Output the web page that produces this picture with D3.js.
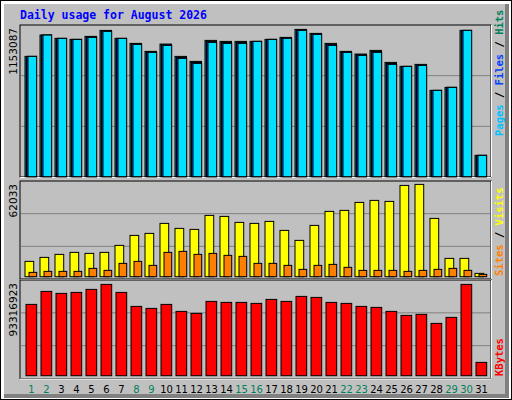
<!DOCTYPE html><html><head><script src="https://cdn.jsdelivr.net/npm/d3@7"></script>
<style>body{margin:0;background:#fff}</style></head><body><svg id="c" width="512" height="400"></svg>
<script>
const days = d3.range(1,32);
const weekend = [1,2,8,9,15,16,22,23,29,30];
const hits = [941800,1108700,1082700,1074800,1098300,1145300,1082700,1043500,980900,1038300,941800,902600,1067000,1059200,1059200,1059200,1074800,1090500,1153087,1121800,1043500,980900,960000,988700,894800,863500,879200,675700,699200,1145300,167000];
const files = [941800,1108700,1082700,1074800,1094000,1141000,1082700,1039000,976000,1033000,933000,894000,1059000,1051000,1051000,1059200,1074800,1086000,1149000,1118000,1036000,976000,955000,980000,886000,863500,875000,675700,699200,1145300,167000];
const pages = [941800,1108700,1082700,1074800,1090500,1137500,1082700,1035700,973100,1027900,926100,887000,1051300,1043500,1043500,1059200,1074800,1082700,1145300,1113900,1027900,973100,949600,973100,879200,863500,871300,675700,699200,1145300,167000];
const visits = [10300,12990,15000,16350,15670,16350,21050,27760,29110,35830,32470,31800,41200,40530,36500,35830,37170,31120,24410,34480,43890,44560,49930,51280,50610,61350,62033,39180,12320,12320,2240];
const sites = [2910,3580,3580,3580,5600,4250,8960,10300,7610,16350,17020,15000,15670,14330,13660,8960,8960,7610,4930,7610,8280,6270,4250,4250,4250,3580,4250,4930,5600,4250,1570];
const kbytes = [72880000,86160000,84120000,85140000,88210000,93316923,85140000,70840000,68800000,72880000,65730000,63690000,75950000,74930000,74930000,73900000,77990000,75950000,81060000,80030000,74930000,73900000,70840000,69820000,65730000,61640000,62670000,53470000,59600000,93316923,13620000];
const maxLabels = ["1153087","62033","93316923"];

const svg = d3.select("#c");
// frame
svg.append("rect").attr("x",0).attr("y",0).attr("width",512).attr("height",400).attr("fill","#000");
svg.append("rect").attr("x",1).attr("y",1).attr("width",510).attr("height",398).attr("fill","#fff");
svg.append("rect").attr("x",4).attr("y",4).attr("width",505).attr("height",394).attr("fill","#808080");
svg.append("rect").attr("x",4).attr("y",4).attr("width",501).attr("height",390).attr("fill","#c0c0c0");
svg.append("text").attr("x",20).attr("y",19).text("Daily usage for August 2026")
  .attr("font-family","DejaVu Sans Mono").attr("font-weight","bold").attr("font-size",11.5).attr("fill","#0000ff");

const x = d3.scaleLinear().domain([1,32]).range([25,25+31*15]);
const panels = [{t:25,b:177,base:176.7},{t:181,b:279,base:276.7},{t:280,b:378.5,base:375.7}];
panels.forEach(p=>{
  svg.append("rect").attr("x",20).attr("y",p.t).attr("width",471).attr("height",p.b-p.t).attr("fill","#c0c0c0").attr("stroke","#000").attr("stroke-width",1);
  svg.append("line").attr("x1",20).attr("x2",491).attr("y1",p.b+0.5).attr("y2",p.b+0.5).attr("stroke","#fff");
  svg.append("line").attr("x1",491.5).attr("x2",491.5).attr("y1",p.t).attr("y2",p.b).attr("stroke","#fff");
  const h=p.b-p.t;
  [1,2].forEach(i=>svg.append("line").attr("x1",21).attr("x2",490).attr("y1",p.t+h*i/3).attr("y2",p.t+h*i/3).attr("stroke","#808080"));
});
const y1 = d3.scaleLinear().domain([0,1153087]).range([176.7,176.7-147.3]);
const y2 = d3.scaleLinear().domain([0,62033]).range([276.7,276.7-92.3]);
const y3 = d3.scaleLinear().domain([0,93316923]).range([375.7,375.7-91.3]);

function bars(data,y,dx,w,fill){
  svg.append("g").selectAll("rect").data(data).join("rect")
   .attr("x",(d,i)=>x(days[i])+dx).attr("y",d=>y(d)).attr("width",w).attr("height",d=>y.range()[0]-y(d))
   .attr("fill",fill).attr("stroke","#000").attr("stroke-width",1);
}
bars(hits,y1,0,11.5,"#00805c");
bars(files,y1,1.5,10,"#0040ff");
bars(pages,y1,3,8.7,"#00e0ff");
bars(visits,y2,0,8.7,"#ffff00");
bars(sites,y2,4,7.7,"#ff8000");
bars(kbytes,y3,1,10.7,"#ff0000");

svg.append("g").selectAll("text").data(days).join("text")
  .attr("x",d=>x(d)+6.5).attr("y",393).attr("text-anchor","middle")
  .attr("font-family","DejaVu Sans").attr("font-size",10)
  .attr("fill",d=>weekend.includes(d)?"#00805c":"#000").text(d=>d);

maxLabels.forEach((l,i)=>{
  svg.append("text").attr("transform",`translate(17,${panels[i].t+3}) rotate(-90)`).attr("text-anchor","end")
   .attr("font-family","DejaVu Sans").attr("font-size",10.5).text(l);
});
function rlabel(parts,yb){
  const t=svg.append("text").attr("transform",`translate(503,${yb}) rotate(-90)`)
   .attr("font-family","DejaVu Sans Mono").attr("font-weight","bold").attr("font-size",10.5);
  parts.forEach(([s,c])=>t.append("tspan").attr("fill",c).text(s));
}
rlabel([["Pages","#00c0ff"],[" / ","#000"],["Files","#0040ff"],[" / ","#000"],["Hits","#00805c"]],136);
rlabel([["Sites","#ff8000"],[" / ","#000"],["Visits","#ffff00"]],276);
rlabel([["KBytes","#ff0000"]],376);
</script></body></html>
